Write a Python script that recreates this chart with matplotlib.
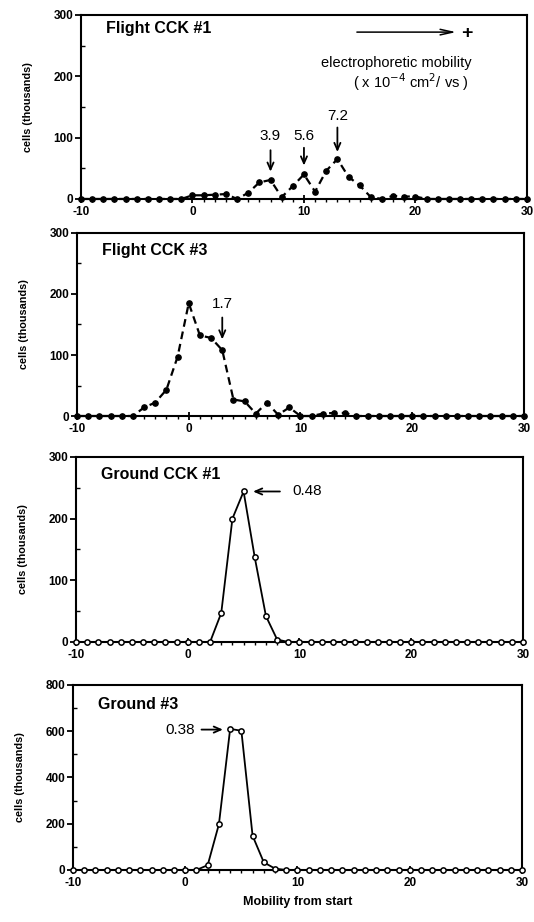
import numpy as np
import matplotlib
matplotlib.use("Agg")
import matplotlib.pyplot as plt
from matplotlib.ticker import MultipleLocator

plt.rcParams['font.family'] = ['Liberation Sans', 'DejaVu Sans']
plt.rcParams['axes.unicode_minus'] = False

# mobility positions, one point per fraction
mobility = np.arange(-10, 31)

flight1 = [0, 0, 0, 0, 0, 0, 0, 0, 0, 0,
           6, 6, 7, 8, 0, 10, 27, 31, 3, 21, 40, 12, 46, 65, 36, 22, 3, 0, 5, 4, 4,
           0, 0, 0, 0, 0, 0, 0, 0, 0, 0]
flight3 = [0, 0, 0, 0, 0, 0,
           14, 22, 43, 97, 185, 132, 128, 108, 27, 24, 4, 22, 2, 14, 0, 0, 4, 5, 5,
           0, 0, 0, 0, 0, 0, 0, 0, 0, 0, 0, 0, 0, 0, 0, 0]
ground1 = [0] * 13 + [47, 200, 244, 137, 42, 4] + [0] * 22
ground3 = [0] * 12 + [21, 198, 610, 602, 148, 33, 6] + [0] * 22

titles = ["Flight CCK #1", "Flight CCK #3", "Ground CCK #1", "Ground #3"]
series = [flight1, flight3, ground1, ground3]
ymax = [300, 300, 300, 800]
ystep = [100, 100, 100, 200]
title_y = [0.925, 0.905, 0.905, 0.895]

# figure positions (left, bottom, width, height)
boxes = [[0.1517, 0.7842, 0.835, 0.1996],
         [0.1442, 0.5488, 0.837, 0.1985],
         [0.1423, 0.3037, 0.837, 0.2007],
         [0.1367, 0.0564, 0.8408, 0.2007]]

fig = plt.figure(figsize=(5.34, 9.22), dpi=100)
axes = []
for i in range(4):
    ax = fig.add_axes(boxes[i])
    axes.append(ax)
    if i < 2:
        ax.plot(mobility, series[i], color='black', lw=1.6, ls=(0, (3.5, 2.2)),
                marker='o', ms=3.8, mfc='black', mec='black', clip_on=False, zorder=3)
    else:
        ax.plot(mobility, series[i], color='black', lw=1.3, ls='-',
                marker='o', ms=3.8, mfc='white', mec='black', mew=1.1,
                clip_on=False, zorder=3)
    ax.set_xlim(-10, 30)
    ax.set_ylim(0, ymax[i])
    ax.xaxis.set_major_locator(MultipleLocator(10))
    ax.xaxis.set_minor_locator(MultipleLocator(1))
    ax.yaxis.set_major_locator(MultipleLocator(ystep[i]))
    ax.yaxis.set_minor_locator(MultipleLocator(ystep[i] / 2))
    ax.tick_params(axis='x', which='major', direction='inout', length=6, width=1.3,
                   labelsize=8.5, pad=2)
    ax.tick_params(axis='x', which='minor', direction='out', length=2, width=1)
    ax.tick_params(axis='y', which='major', direction='out', length=4, width=1.3,
                   labelsize=8.5, pad=1.5)
    ax.tick_params(axis='y', which='minor', direction='in', length=3, width=1)
    for lab in ax.get_xticklabels() + ax.get_yticklabels():
        lab.set_fontweight('bold')
    for sp in ax.spines.values():
        sp.set_linewidth(1.5)
    ax.set_ylabel("cells (thousands)", fontsize=7.8, fontweight='bold', labelpad=15)
    ax.text(0.055, title_y[i], titles[i], transform=ax.transAxes,
            fontsize=11.5, fontweight='bold', va='center')

# peak arrows, flight panels
arr = dict(arrowstyle='->,head_length=0.5,head_width=0.22', color='black', lw=1.3)
ax = axes[0]
for xpk, lab, ytxt, ytail, ytip in [(7, "3.9", 103, 84, 40),
                                    (10, "5.6", 103, 88, 50),
                                    (13, "7.2", 135, 121, 72)]:
    ax.annotate("", xy=(xpk, ytip), xytext=(xpk, ytail), arrowprops=arr)
    ax.text(xpk, ytxt, lab, fontsize=11, ha='center', va='center')

ax.annotate("", xy=(23.9, 272), xytext=(14.5, 272),
            arrowprops=dict(arrowstyle='->,head_length=0.9,head_width=0.2',
                            color='black', lw=1.1))
ax.text(24.6, 270, "+", fontsize=14, fontweight='bold', ha='center', va='center')
ax.text(18.3, 222, "electrophoretic mobility", fontsize=10.5, ha='center', va='center')
ax.text(19.6, 191, r"( x 10$^{\mathsf{-4}}$ cm$^{\mathsf{2}}$/ vs )", fontsize=10.5,
        ha='center', va='center')

ax = axes[1]
ax.annotate("", xy=(3, 121), xytext=(3, 166), arrowprops=arr)
ax.text(3, 184, "1.7", fontsize=11, ha='center', va='center')

ax = axes[2]
ax.annotate("", xy=(5.6, 244), xytext=(8.5, 244), arrowprops=arr)
ax.text(9.4, 244, "0.48", fontsize=11, ha='left', va='center')

ax = axes[3]
ax.annotate("", xy=(3.6, 607), xytext=(1.2, 607), arrowprops=arr)
ax.text(0.9, 607, "0.38", fontsize=11, ha='right', va='center')
ax.set_xlabel("Mobility from start", fontsize=9, fontweight='bold', labelpad=5)

fig.savefig("out.png", dpi=100, facecolor='white')
